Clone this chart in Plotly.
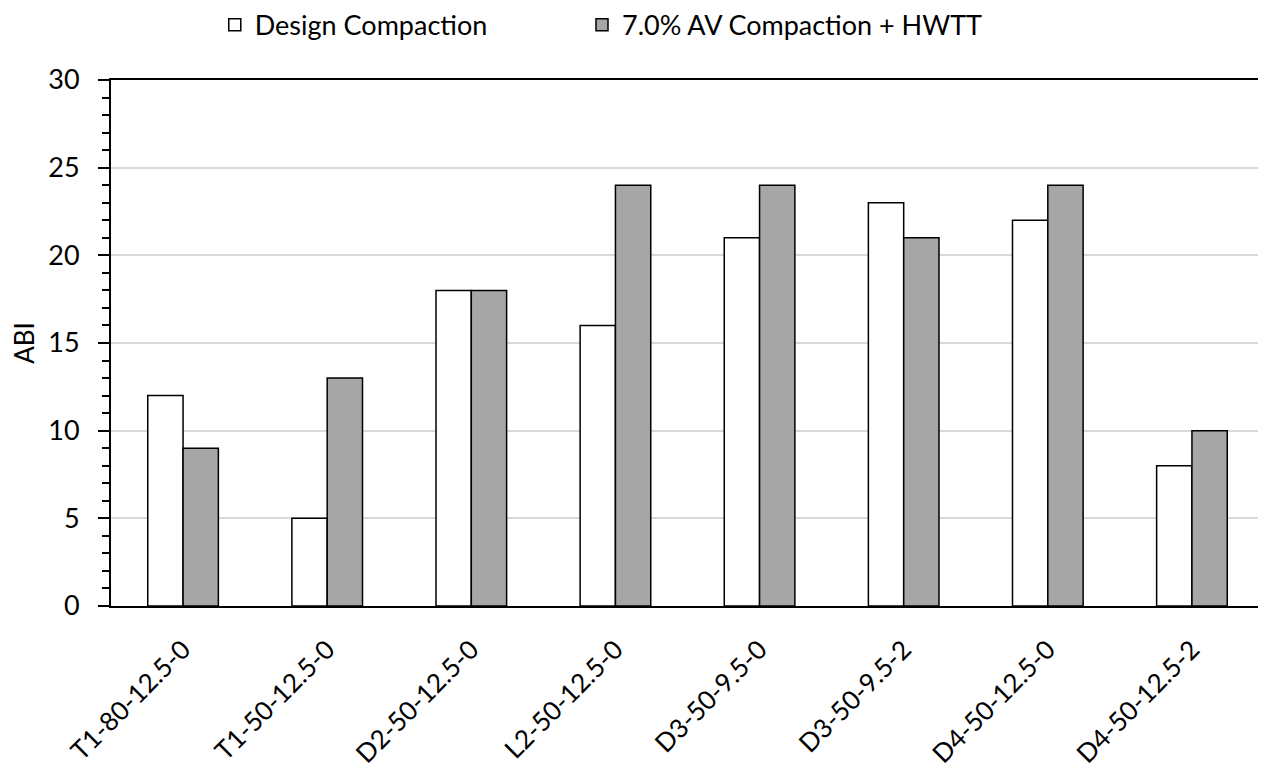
import plotly.graph_objects as go

categories = ["T1-80-12.5-0", "T1-50-12.5-0", "D2-50-12.5-0", "L2-50-12.5-0",
              "D3-50-9.5-0", "D3-50-9.5-2", "D4-50-12.5-0", "D4-50-12.5-2"]
design = [12, 5, 18, 16, 21, 23, 22, 8]
hwtt = [9, 13, 18, 24, 24, 21, 24, 10]

FONT = "Lato, 'Liberation Sans', sans-serif"

fig = go.Figure()
fig.add_trace(go.Bar(x=categories, y=design, name="Design Compaction", legend="legend",
                     marker=dict(color="white", line=dict(color="black", width=1.5))))
fig.add_trace(go.Bar(x=categories, y=hwtt, name="7.0% AV Compaction + HWTT", legend="legend2",
                     marker=dict(color="#a6a6a6", line=dict(color="black", width=1.5))))

leg_common = dict(orientation="h", y=1.104, yanchor="middle", xanchor="left",
                  font=dict(size=27, family=FONT), itemwidth=30, bgcolor="rgba(0,0,0,0)")

fig.update_layout(
    width=1258, height=761,
    margin=dict(l=103, r=2, t=72, b=163, autoexpand=False),
    paper_bgcolor="white", plot_bgcolor="white",
    barmode="group", bargap=0.51, bargroupgap=0,
    font=dict(family=FONT, size=24, color="black"),
    showlegend=True,
    legend=dict(x=0.090, **leg_common),
    legend2=dict(x=0.4085, **leg_common),
)
fig.update_yaxes(
    range=[0, 30], tickvals=[0, 5, 10, 15, 20, 25, 30],
    showgrid=True, gridcolor="#d9d9d9", gridwidth=1.5,
    showline=True, linecolor="black", linewidth=2, mirror=True,
    ticks="outside", ticklen=11, tickwidth=2, tickcolor="black",
    minor=dict(dtick=1, ticks="outside", ticklen=7, tickwidth=1.5, tickcolor="black", showgrid=False),
    title=dict(text="ABI", font=dict(size=26), standoff=22),
    tickfont=dict(size=27), zeroline=False, automargin=False,
    ticklabelstandoff=13,
)
fig.update_xaxes(
    showline=True, linecolor="black", linewidth=2, mirror=True,
    ticks="", tickangle=-45, tickfont=dict(size=26), automargin=False,
    ticklabelstandoff=16,
)

fig.write_html("out.html")
